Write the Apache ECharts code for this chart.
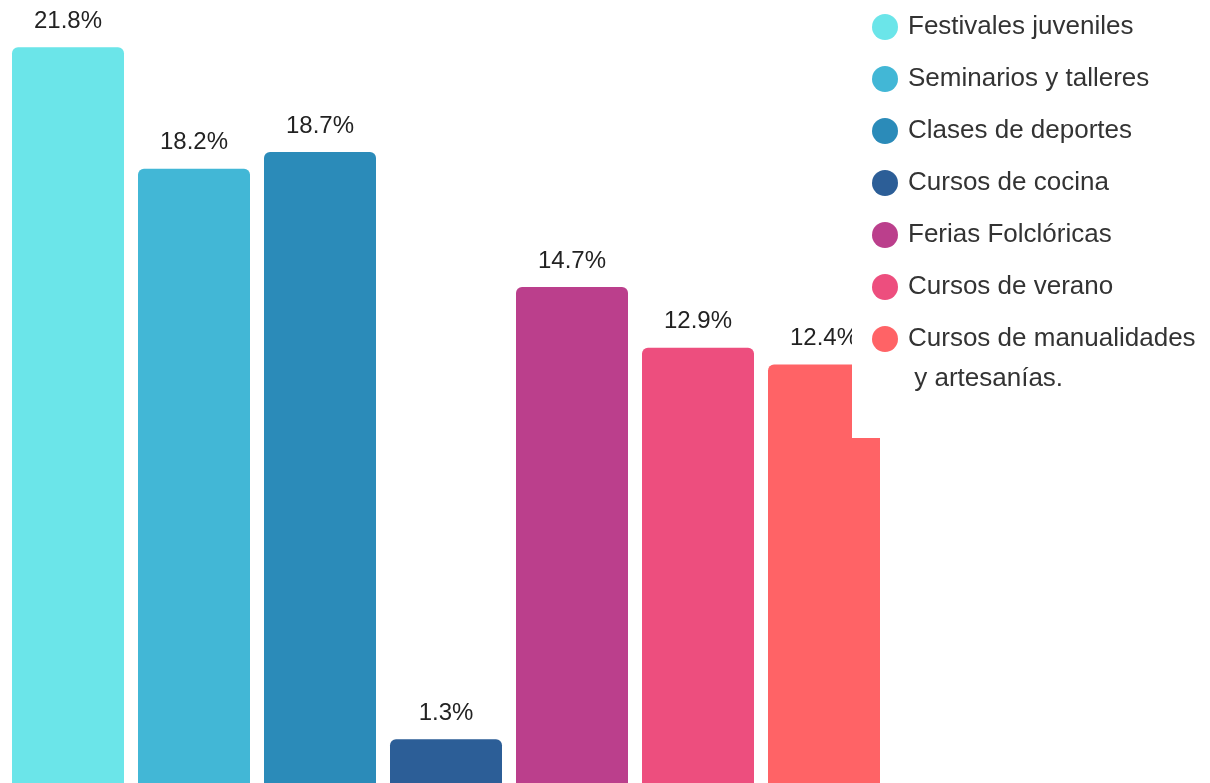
<!DOCTYPE html>
<html>
<head>
<meta charset="utf-8">
<style>
  html, body { margin: 0; padding: 0; background: #ffffff; }
  #chart { width: 1210px; height: 783px; }
</style>
<script src="https://cdn.jsdelivr.net/npm/echarts@6/dist/echarts.min.js"></script>
</head>
<body>
<div id="chart"></div>
<script>
const categories = [
  'Festivales juveniles',
  'Seminarios y talleres',
  'Clases de deportes',
  'Cursos de cocina',
  'Ferias Folclóricas',
  'Cursos de verano',
  'Cursos de manualidades'
]
const values = [21.8, 18.2, 18.7, 1.3, 14.7, 12.9, 12.4]
const legendExtraLine = ' y artesanías.'

const colors = ['#6be5e9', '#42b7d6', '#2b8bb9', '#2c5e97', '#bb3f8c', '#ed4e7e', '#ff6366']

const font = '"Liberation Sans", Arial, sans-serif'

const series = categories.map((name, i) => ({
  name,
  type: 'bar',
  stack: 'all',
  barWidth: 112,
  data: values.map((v, j) => (j === i ? v : '-')),
  itemStyle: { color: colors[i], borderRadius: [6, 6, 0, 0] },
  label: {
    show: true,
    position: 'top',
    distance: 14,
    formatter: '{c}%',
    color: '#222222',
    fontSize: 24,
    fontFamily: font
  }
}))

const chart = echarts.init(document.getElementById('chart'), null, { renderer: 'canvas' })

chart.setOption({
  animation: false,
  color: colors,
  grid: { left: 5, right: 323, top: 0, bottom: 0 },
  xAxis: { type: 'category', data: categories, show: false },
  yAxis: { type: 'value', min: 0, max: 23.2, show: false },
  legend: {
    orient: 'vertical',
    left: 852,
    top: 0,
    padding: [14, 14, 86, 20],
    backgroundColor: '#ffffff',
    icon: 'circle',
    itemWidth: 36,
    itemHeight: 26,
    itemGap: 26,
    selectedMode: false,
    data: categories,
    textStyle: { color: '#333333', fontSize: 26, lineHeight: 26, fontFamily: font }
  },
  graphic: [{
    type: 'text',
    left: 907,
    top: 366,
    z: 100,
    style: { text: legendExtraLine, fill: '#333333', font: '26px ' + font }
  }],
  series
})
</script>
</body>
</html>
